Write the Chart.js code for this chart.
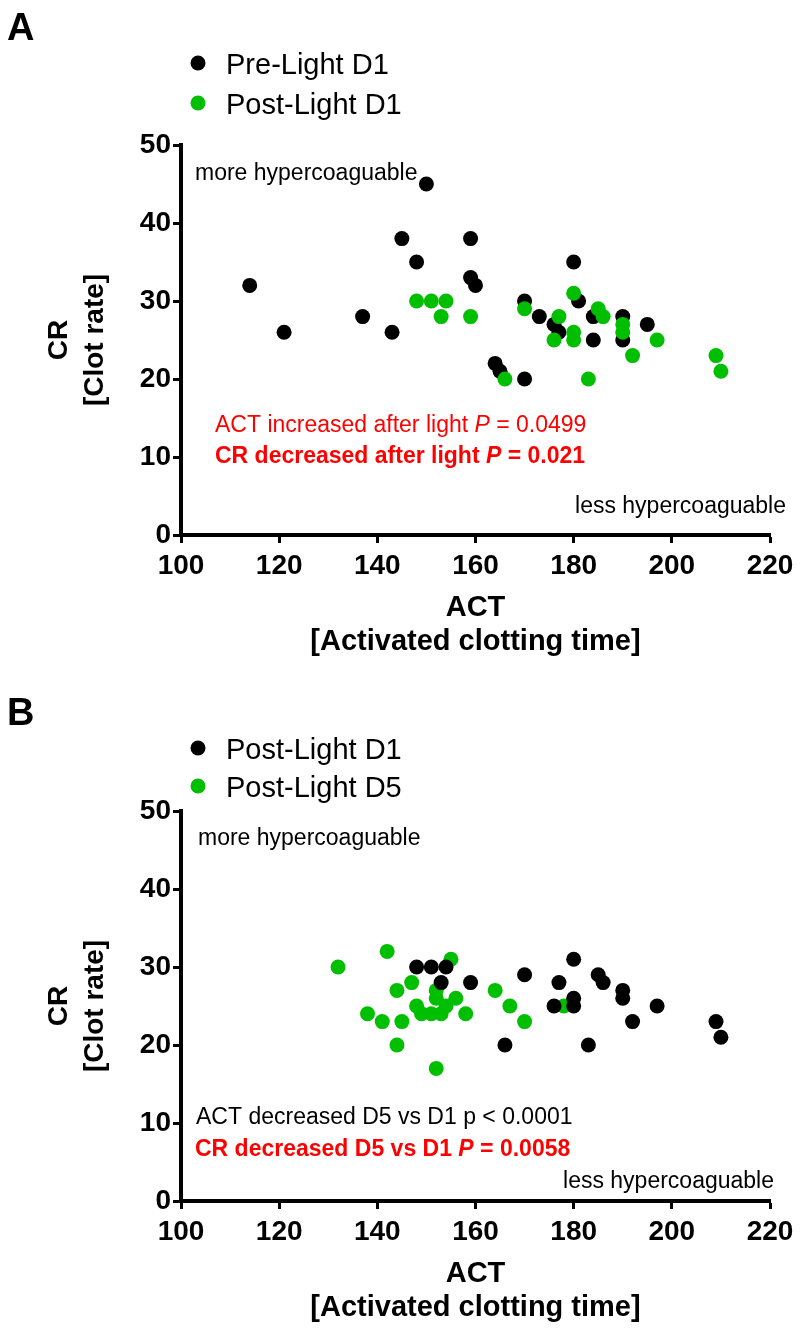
<!DOCTYPE html>
<html>
<head>
<meta charset="utf-8">
<title>ACT vs CR</title>
<script src="https://cdn.jsdelivr.net/npm/chart.js@4.4.0/dist/chart.umd.min.js"></script>
<style>
  html, body { margin: 0; padding: 0; background: #fff; overflow: hidden; }
  .panel { position: absolute; left: 0; width: 800px; height: 665px; }
</style>
</head>
<body>
<div class="panel" style="top:0"><canvas id="chartA"></canvas></div>
<div class="panel" style="top:666px"><canvas id="chartB"></canvas></div>
<script>
const FONT = "'Liberation Sans', Arial, Helvetica, sans-serif";
const BLACK = "#000000";
const GREEN = "#00bf00";
const RED = "#ff0000";

// axis ticks
const xTicks = [100, 120, 140, 160, 180, 200, 220];
const yTicks = [0, 10, 20, 30, 40, 50];

// Pre-Light D1
const preD1Act = [114, 121, 137, 143, 145, 148, 150, 159, 159, 160, 164, 165, 170, 170, 173, 176, 177, 180, 181, 184, 184, 190, 190, 195];
const preD1Cr  = [32, 26, 28, 26, 38, 35, 45, 38, 33, 32, 22, 21, 30, 20, 28, 27, 26, 35, 30, 28, 25, 28, 25, 27];

// Post-Light D1
const postD1Act = [148, 151, 154, 153, 159, 166, 170, 176, 177, 180, 180, 180, 183, 185, 186, 190, 190, 192, 197, 209, 210];
const postD1Cr  = [30, 30, 30, 28, 28, 20, 29, 25, 28, 31, 26, 25, 20, 29, 28, 27, 26, 23, 25, 23, 21];

// Post-Light D5
const postD5Act = [132, 142, 155, 147, 144, 152, 152, 156, 148, 154, 149, 151, 153, 138, 141, 145, 158, 144, 152, 164, 167, 170, 178];
const postD5Cr  = [30, 32, 31, 28, 27, 27, 26, 26, 25, 25, 24, 24, 24, 24, 23, 23, 24, 20, 17, 27, 25, 23, 25];

function toPoints(xs, ys) {
  return xs.map((x, i) => ({ x: x, y: ys[i] }));
}

function drawRuns(ctx, note) {
  let width = 0;
  note.runs.forEach(r => {
    ctx.font = r.font + " " + FONT;
    width += ctx.measureText(r.text).width;
  });
  let x = note.align === "right" ? note.x - width : note.x;
  ctx.fillStyle = note.color;
  ctx.textAlign = "left";
  ctx.textBaseline = "alphabetic";
  note.runs.forEach(r => {
    ctx.font = r.font + " " + FONT;
    ctx.fillText(r.text, x, note.y);
    x += ctx.measureText(r.text).width;
  });
}

const panelDecor = {
  id: "panelDecor",
  afterDraw(chart, args, opts) {
    const ctx = chart.ctx;
    ctx.save();
    ctx.fillStyle = BLACK;
    ctx.font = "bold 38px " + FONT;
    ctx.textAlign = "left";
    ctx.textBaseline = "alphabetic";
    ctx.fillText(opts.letter, 7, opts.letterY);

    opts.legendY.forEach((y, k) => {
      const ds = chart.data.datasets[k];
      ctx.beginPath();
      ctx.arc(198, y, 7.5, 0, Math.PI * 2);
      ctx.fillStyle = ds.backgroundColor;
      ctx.fill();
      ctx.fillStyle = BLACK;
      ctx.font = "29px " + FONT;
      ctx.fillText(ds.label, 226, y + 11);
    });

    opts.notes.forEach(n => drawRuns(ctx, n));
    ctx.restore();
  },
};

function makeChart(id, datasets, decor) {
  const tickFont = { family: FONT, size: 28, weight: "bold" };
  const grid = { drawOnChartArea: false, drawTicks: true, tickLength: 8, tickWidth: 3, tickColor: BLACK };
  const border = { display: true, width: 4, color: BLACK };
  return new Chart(document.getElementById(id), {
    type: "scatter",
    data: { datasets: datasets },
    plugins: [panelDecor],
    options: {
      responsive: true,
      maintainAspectRatio: false,
      animation: false,
      events: [],
      layout: { padding: { top: 145, right: 30, left: 0, bottom: 0 } },
      plugins: {
        legend: { display: false },
        tooltip: { enabled: false },
        panelDecor: decor,
      },
      scales: {
        x: {
          type: "linear",
          min: 100,
          max: 220,
          afterBuildTicks: s => { s.ticks = xTicks.map(v => ({ value: v })); },
          afterFit: s => { s.height = 130; },
          grid: grid,
          border: border,
          ticks: { color: BLACK, font: tickFont, padding: 6, maxRotation: 0, autoSkip: false },
          title: {
            display: true,
            text: ["ACT", "[Activated clotting time]"],
            color: BLACK,
            font: { family: FONT, size: 29, weight: "bold", lineHeight: 1.17 },
            padding: { top: 0, bottom: 6 },
          },
        },
        y: {
          type: "linear",
          min: 0,
          max: 50,
          afterBuildTicks: s => { s.ticks = yTicks.map(v => ({ value: v })); },
          afterFit: s => { s.width = 181; },
          grid: grid,
          border: border,
          ticks: { color: BLACK, font: tickFont, padding: 2, autoSkip: false },
          title: {
            display: true,
            text: ["CR", "[Clot rate]"],
            color: BLACK,
            font: { family: FONT, size: 28, weight: "bold", lineHeight: 1.3 },
            padding: { top: 41, bottom: 0 },
          },
        },
      },
    },
  });
}

function series(label, xs, ys, color, order) {
  return {
    label: label,
    data: toPoints(xs, ys),
    backgroundColor: color,
    borderWidth: 0,
    pointRadius: 7.5,
    pointHoverRadius: 7.5,
    order: order,
  };
}

makeChart("chartA", [
  series("Pre-Light D1", preD1Act, preD1Cr, BLACK, 2),
  series("Post-Light D1", postD1Act, postD1Cr, GREEN, 1),
], {
  letter: "A",
  letterY: 40,
  legendY: [63, 103],
  notes: [
    { x: 195, y: 180, color: BLACK, runs: [{ text: "more hypercoaguable", font: "23px" }] },
    { x: 215, y: 432, color: RED, runs: [
      { text: "ACT increased after light ", font: "23px" },
      { text: "P", font: "italic 23px" },
      { text: " = 0.0499", font: "23px" },
    ] },
    { x: 215, y: 463, color: RED, runs: [
      { text: "CR decreased after light ", font: "bold 23px" },
      { text: "P", font: "bold italic 23px" },
      { text: " = 0.021", font: "bold 23px" },
    ] },
    { x: 786, y: 513, align: "right", color: BLACK, runs: [{ text: "less hypercoaguable", font: "23px" }] },
  ],
});

makeChart("chartB", [
  series("Post-Light D1", postD1Act, postD1Cr, BLACK, 1),
  series("Post-Light D5", postD5Act, postD5Cr, GREEN, 2),
], {
  letter: "B",
  letterY: 59,
  legendY: [82, 120],
  notes: [
    { x: 198, y: 179, color: BLACK, runs: [{ text: "more hypercoaguable", font: "23px" }] },
    { x: 196, y: 458, color: BLACK, runs: [{ text: "ACT decreased D5 vs D1 p < 0.0001", font: "23px" }] },
    { x: 195, y: 490, color: RED, runs: [
      { text: "CR decreased D5 vs D1 ", font: "bold 23px" },
      { text: "P", font: "bold italic 23px" },
      { text: " = 0.0058", font: "bold 23px" },
    ] },
    { x: 774, y: 522, align: "right", color: BLACK, runs: [{ text: "less hypercoaguable", font: "23px" }] },
  ],
});
</script>
</body>
</html>
